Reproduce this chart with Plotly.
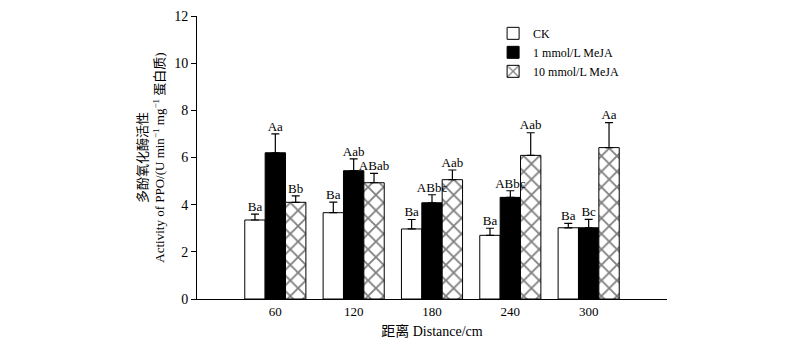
import plotly.graph_objects as go

categories = ["60", "120", "180", "240", "300"]
series_names = ["CK", "1 mmol/L MeJA", "10 mmol/L MeJA"]
ck = [3.35, 3.66, 2.97, 2.70, 3.02]
ck_err = [0.25, 0.45, 0.40, 0.30, 0.19]
ck_lab = ["Ba", "Ba", "Ba", "Ba", "Ba"]
m1 = [6.20, 5.44, 4.08, 4.31, 3.02]
m1_err = [0.80, 0.50, 0.34, 0.28, 0.36]
m1_lab = ["Aa", "Aab", "ABbc", "ABbc", "Bc"]
m10 = [4.10, 4.93, 5.06, 6.09, 6.42]
m10_err = [0.27, 0.40, 0.41, 0.96, 1.06]
m10_lab = ["Bb", "ABab", "Aab", "Aab", "Aa"]

FONT = "Liberation Serif, Times New Roman, Noto Sans CJK SC, serif"
w = 0.26
offsets = [-w, 0, w]
vals = [ck, m1, m10]
errs = [ck_err, m1_err, m10_err]
labs = [ck_lab, m1_lab, m10_lab]
fills = [
    dict(color="white"),
    dict(color="black"),
    dict(color="white", pattern=dict(shape="x", fgcolor="black", bgcolor="white", size=11, solidity=0.3, fillmode="overlay")),
]

fig = go.Figure()
for k in range(3):
    xs = [i + offsets[k] for i in range(len(categories))]
    m = dict(line=dict(color="black", width=1))
    m.update(fills[k])
    fig.add_trace(go.Bar(
        x=xs, y=vals[k], width=w, name=series_names[k], marker=m,
        error_y=dict(type="data", array=errs[k], arrayminus=[0]*5, symmetric=False,
                     color="black", thickness=1.2, width=4),
    ))
for k in range(3):
    xs = [i + offsets[k] for i in range(len(categories))]
    fig.add_trace(go.Scatter(
        x=xs, y=[v + e for v, e in zip(vals[k], errs[k])], mode="text", text=labs[k],
        textposition="top center", textfont=dict(family=FONT, size=13, color="black"),
        showlegend=False, hoverinfo="skip", cliponaxis=False,
    ))

fig.update_layout(
    template="none",
    width=800, height=348, margin=dict(l=197, r=133, t=16, b=49),
    paper_bgcolor="white", plot_bgcolor="white",
    font=dict(family=FONT, size=13, color="black"),
    showlegend=True,
    legend=dict(x=0.63, y=0.99, xanchor="left", yanchor="top", bgcolor="rgba(0,0,0,0)",
                font=dict(family=FONT, size=12, color="black"), tracegroupgap=0, itemwidth=30),
    xaxis=dict(range=[-1, 5], tickvals=list(range(len(categories))), ticktext=categories,
               showline=True, linecolor="black", linewidth=1, ticks="", showgrid=False,
               zeroline=False, tickfont=dict(size=13, color="black"),
               title=dict(text="距离 Distance/cm", font=dict(size=14, color="black"), standoff=8)),
    yaxis=dict(range=[0, 12], tickvals=[0, 2, 4, 6, 8, 10, 12], showline=True, linecolor="black",
               linewidth=1, ticks="outside", ticklen=5, tickcolor="black", showgrid=False,
               zeroline=False, tickfont=dict(size=14, color="black"),
               title=dict(text="多酚氧化酶活性<br>Activity of PPO/(U min<sup>−1</sup> mg<sup>−1</sup> 蛋白质)",
                          font=dict(size=13, color="black"), standoff=6)),
)
fig.write_html("out.html")
